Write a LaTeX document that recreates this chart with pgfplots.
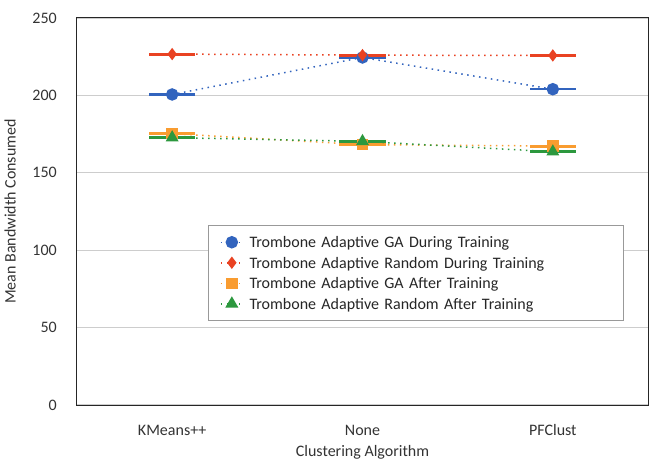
\documentclass[border=0pt]{standalone}
\usepackage{fontspec}
\setmainfont{Carlito}
\usepackage{pgfplots}
\pgfplotsset{compat=1.18}
\definecolor{cblue}{RGB}{50,100,190}
\definecolor{cred}{RGB}{233,66,34}
\definecolor{corange}{RGB}{249,156,48}
\definecolor{cgreen}{RGB}{44,152,62}
\definecolor{cgrid}{RGB}{205,205,205}
\begin{document}
\begin{tikzpicture}
\begin{axis}[
  scale only axis,
  width=571pt, height=387pt,
  xmin=-0.5, xmax=2.5,
  ymin=0, ymax=250,
  xtick={0,1,2},
  xticklabels={KMeans++,None,PFClust},
  ytick={0,50,100,150,200,250},
  ymajorgrids,
  grid style={cgrid, line width=1.2pt},
  major tick length=0pt,
  axis line style={black!85, line width=1pt},
  tick label style={font=\fontsize{16}{18}\selectfont, text=black!80, inner sep=0pt},
  xticklabel style={anchor=base, yshift=-30pt},
  yticklabel style={anchor=east, xshift=-20pt},
  /pgf/number format/assume math mode=true,
  xlabel={Clustering Algorithm},
  ylabel={Mean Bandwidth Consumed},
  label style={font=\fontsize{16}{18}\selectfont, text=black!80},
  xlabel style={at={(axis description cs:0.5,0)}, anchor=base, yshift=-51pt, inner sep=0pt},
  ylabel style={at={(axis description cs:-0.117,0.5)}, anchor=center, inner sep=0pt},
  legend style={at={(0.2287,0.4651)}, anchor=north west, draw=black!40, line width=1pt,
    font=\fontsize{16}{18}\selectfont, text=black!85, inner xsep=12pt, inner ysep=8pt,
    row sep=3pt, legend cell align=left,
    nodes={inner sep=0pt, text height=14pt, text depth=3.5pt},
    /tikz/every odd column/.append style={column sep=4pt},
    /tikz/every even column/.append style={text width=362pt}},
  legend image code/.code={\draw[#1, mark repeat=2, mark phase=2] plot coordinates {(0pt,0pt) (11pt,0pt) (24pt,0pt)};},
  every axis plot/.append style={dash pattern=on 1.5pt off 4.5pt, line width=1.5pt},
  error bars/error bar style={solid, line width=3pt},
]
\addplot[color=cblue, mark=*, mark size=5.5pt, mark options={solid, fill=cblue},
  error bars/.cd, x dir=both, x fixed=0.121, error mark=none, error bar style={line width=2.4pt}]
  coordinates {(0,200.6) (1,224.5) (2,204)};
\addlegendentry{Trombone Adaptive GA During Training}
\addplot[color=cred, mark=diamond*, mark size=5pt, mark options={solid, fill=cred},
  error bars/.cd, x dir=both, x fixed=0.121, error mark=none]
  coordinates {(0,226.7) (1,226) (2,225.8)};
\addlegendentry{Trombone Adaptive Random During Training}
\addplot[color=corange, mark=square*, mark size=5pt, mark options={solid, fill=corange},
  error bars/.cd, x dir=both, x fixed=0.121, error mark=none]
  coordinates {(0,175.3) (1,168.2) (2,167.3)};
\addlegendentry{Trombone Adaptive GA After Training}
\addplot[color=cgreen, mark=triangle*, mark size=6pt, mark options={solid, fill=cgreen},
  error bars/.cd, x dir=both, x fixed=0.121, error mark=none]
  coordinates {(0,172.7) (1,170.3) (2,163.6)};
\addlegendentry{Trombone Adaptive Random After Training}
\end{axis}
\pgfresetboundingbox
\path ([shift={(-77pt,-63pt)}]current axis.south west) rectangle ([shift={(2pt,18pt)}]current axis.north east);
\end{tikzpicture}
\end{document}
